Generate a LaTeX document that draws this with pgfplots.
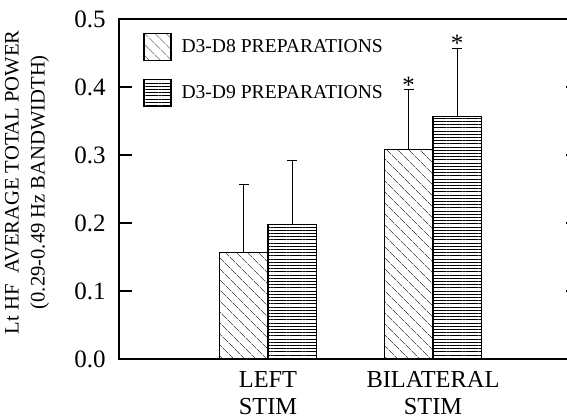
\documentclass[border=0pt]{standalone}
\usepackage{pgfplots}
\pgfplotsset{compat=1.18}
\usepackage{fontspec}
\setmainfont{Liberation Serif}
\usetikzlibrary{patterns.meta}
\begin{document}
\begin{tikzpicture}
\begin{axis}[
  at={(59.5pt,30pt)}, anchor=south west,
  scale only axis, width=230pt, height=170pt,
  xmin=-0.903, xmax=1.885,
  ymin=0, ymax=0.5,
  ytick={0,0.1,0.2,0.3,0.4,0.5},
  yticklabel style={/pgf/number format/fixed,/pgf/number format/zerofill,/pgf/number format/precision=1,
    /pgf/number format/assume math mode=true, font=\fontsize{12.5}{14}\selectfont, inner sep=0pt, xshift=-6.5pt},
  xtick={0,1},
  xticklabels={LEFT\\STIM, BILATERAL\\STIM},
  xticklabel style={align=center, font=\fontsize{12.2}{13.5}\selectfont, inner sep=0pt, yshift=-6pt},
  x tick style={draw=none},
  tick align=inside,
  major tick length=6.5pt,
  y tick style={line width=1pt, black},
  axis line style={line width=1pt},
  ylabel={Lt HF\ \ AVERAGE TOTAL POWER\\(0.29-0.49 Hz BANDWIDTH)},
  ylabel style={align=center, font=\fontsize{10.3}{13}\selectfont, at={(axis description cs:-0.137,0.52)}, anchor=south},
  legend style={at={(axis description cs:0.052,0.96)}, anchor=north west, draw=none, fill=none,
    font=\fontsize{9.8}{12}\selectfont, row sep=9pt, inner sep=0pt, nodes={inner sep=0pt}},
  legend cell align=left,
  mylegend/.style={legend image code/.code={\draw[##1] (0pt,-6.75pt) rectangle (13.5pt,6.75pt);}},
  error bars/y dir=plus, error bars/y explicit,
  error bars/error mark options={rotate=90, mark size=2.6pt, line width=0.7pt, black},
  error bars/error bar style={line width=0.7pt, black},
]
\addplot[ybar, bar width=0.294, draw=black, line width=0.6pt,
  pattern={Lines[angle=-45, distance=4pt, line width=0.35pt]}, pattern color=black!65, mylegend]
  coordinates {(-0.147,0.157) +- (0,0.100) (0.853,0.308) +- (0,0.088)};
\addlegendentry{\hspace{5pt}D3-D8 PREPARATIONS}
\addplot[ybar, bar width=0.294, draw=black, line width=0.6pt,
  pattern={Lines[angle=0, distance=1.6pt, line width=0.45pt]}, pattern color=black, mylegend]
  coordinates {(0.147,0.198) +- (0,0.094) (1.147,0.357) +- (0,0.100)};
\addlegendentry{\hspace{5pt}D3-D9 PREPARATIONS}
\addplot[only marks, mark=text, text mark={\fontsize{12.5}{13}\selectfont *}, forget plot]
  coordinates {(0.853,0.403) (1.147,0.464)};
\end{axis}
\pgfresetboundingbox
\useasboundingbox (0,0) rectangle (283.5pt,209.5pt);
\end{tikzpicture}
\end{document}
